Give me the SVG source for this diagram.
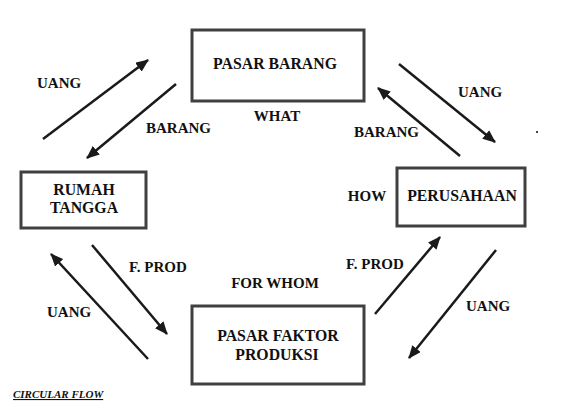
<svg xmlns="http://www.w3.org/2000/svg" width="564" height="413" viewBox="0 0 564 413">
<defs>
<marker id="ah" markerUnits="userSpaceOnUse" markerWidth="13" markerHeight="11" viewBox="0 0 13 11" refX="12" refY="5.5" orient="auto">
<path d="M0,0 L13,5.5 L0,11 Z" fill="#1a1a1a"/>
</marker>
<style>
.box{fill:#fff;stroke:#404040;stroke-width:3}
.t{font-family:"Liberation Serif","Times New Roman",serif;font-weight:bold;font-size:15px;fill:#111}
.b{font-size:15.8px}
.c{text-anchor:middle}
.ar{stroke:#1a1a1a;stroke-width:2.5;fill:none;marker-end:url(#ah)}
</style>
</defs>
<rect width="564" height="413" fill="#fff"/>
<g id="pasar-barang"><rect class="box" x="192" y="30" width="172" height="71"/><text class="t b c" x="275" y="69">PASAR BARANG</text></g>
<g id="rumah-tangga"><rect class="box" x="21" y="172" width="125" height="56"/><text class="t b c" x="84" y="195">RUMAH</text><text class="t b c" x="84" y="213">TANGGA</text></g>
<g id="perusahaan"><rect class="box" x="397" y="168" width="128" height="58"/><text class="t b c" x="462" y="201">PERUSAHAAN</text></g>
<g id="pasar-faktor"><rect class="box" x="192" y="306" width="172" height="78"/><text class="t b c" x="278" y="341">PASAR FAKTOR</text><text class="t b c" x="277" y="360">PRODUKSI</text></g>
<g id="connectors">
<line class="ar" x1="43" y1="139" x2="148" y2="60"/>
<line class="ar" x1="176" y1="84" x2="87" y2="158"/>
<line class="ar" x1="399" y1="64" x2="495" y2="142"/>
<line class="ar" x1="460" y1="156" x2="378" y2="88"/>
<line class="ar" x1="92" y1="245" x2="167" y2="334"/>
<line class="ar" x1="148" y1="359" x2="51" y2="254"/>
<line class="ar" x1="375" y1="314" x2="440" y2="237"/>
<line class="ar" x1="496" y1="250" x2="409" y2="358"/>
</g>
<g id="labels">
<text class="t" x="37" y="88">UANG</text>
<text class="t" x="146" y="133">BARANG</text>
<text class="t" x="458" y="97">UANG</text>
<text class="t" x="354" y="137">BARANG</text>
<text class="t c" x="277" y="121">WHAT</text>
<text class="t c" x="367" y="201">HOW</text>
<text class="t c" x="275" y="288">FOR WHOM</text>
<text class="t" x="129" y="272">F. PROD</text>
<text class="t" x="47" y="317">UANG</text>
<text class="t" x="346" y="269">F. PROD</text>
<text class="t" x="466" y="311">UANG</text>
<text x="13" y="398" style="font-family:'Liberation Serif','Times New Roman',serif;font-weight:bold;font-style:italic;font-size:11px;fill:#111;text-decoration:underline">CIRCULAR FLOW</text>
</g>
<rect x="536" y="131" width="2" height="2" fill="#444"/>
</svg>
